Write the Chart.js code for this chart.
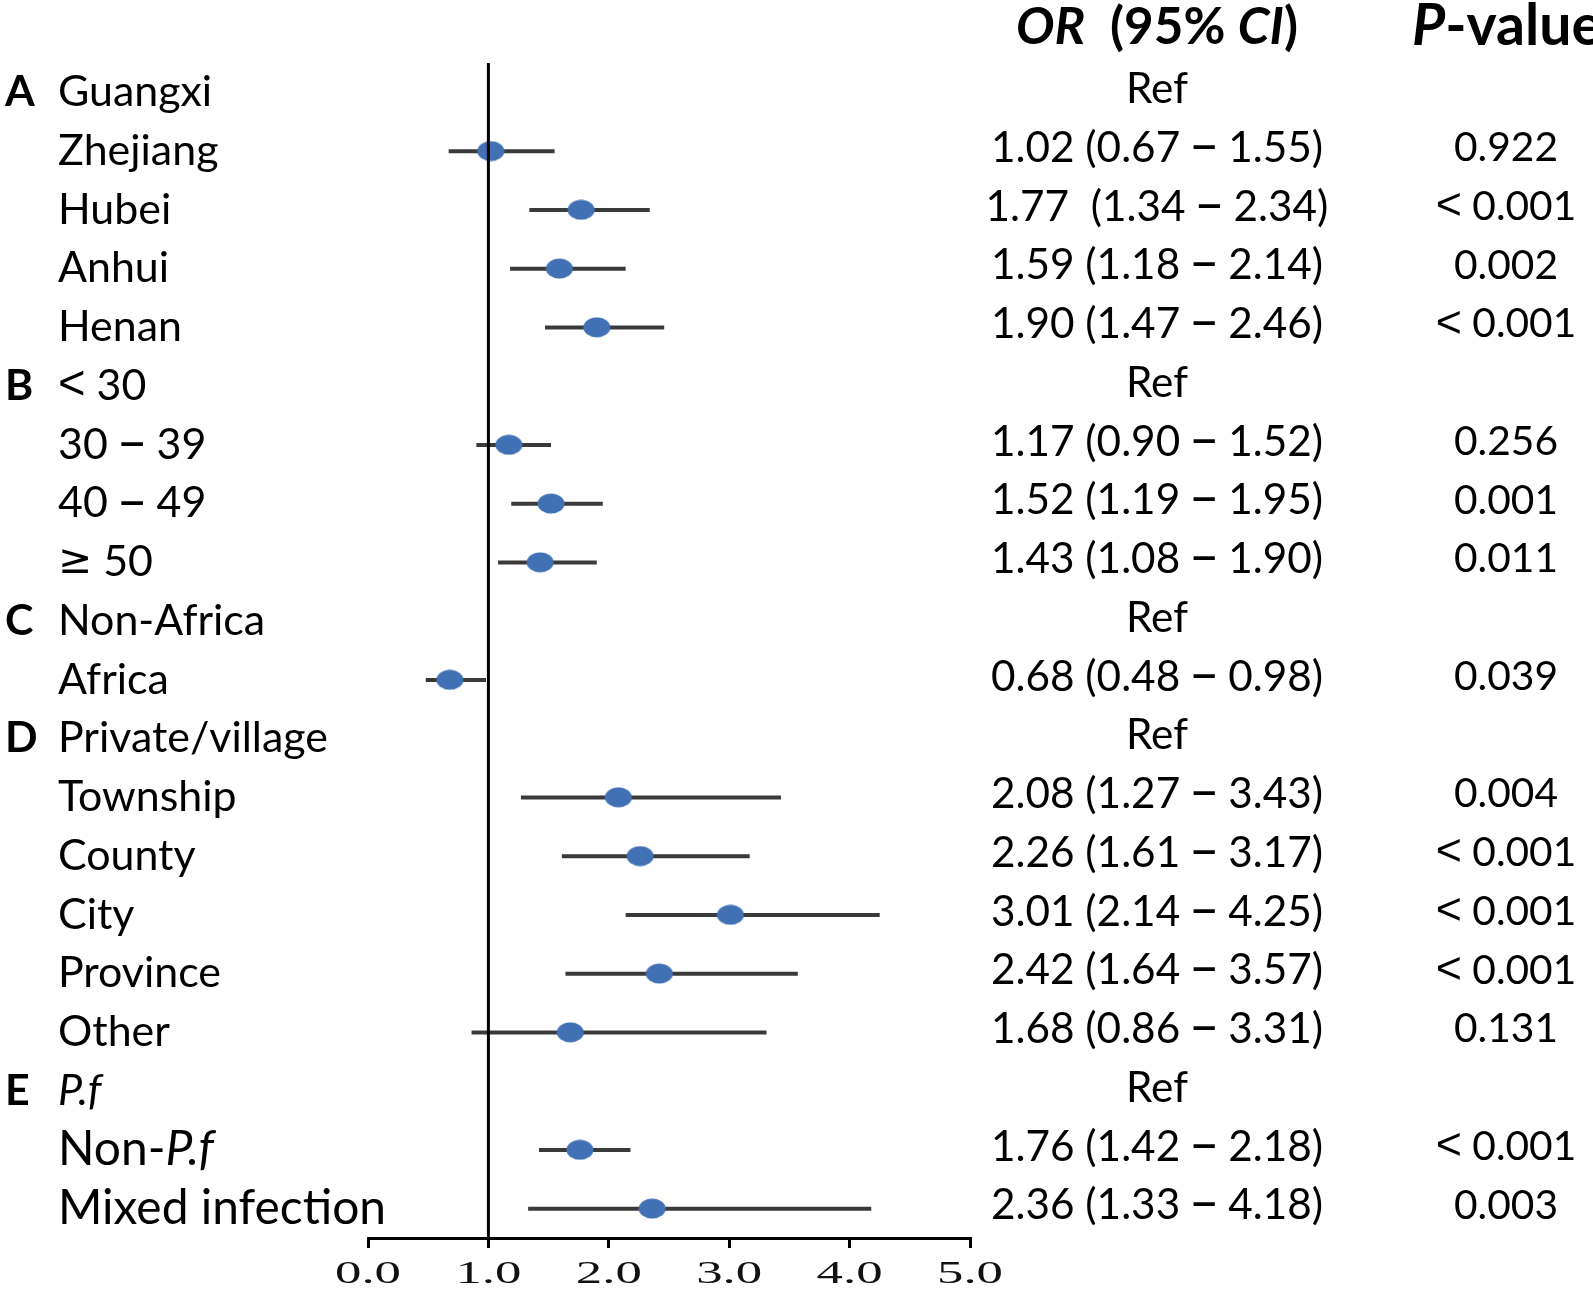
<!DOCTYPE html>
<html><head><meta charset="utf-8">
<script src="https://cdn.jsdelivr.net/npm/chart.js@4.4.1/dist/chart.umd.min.js"></script>
<style>html,body{margin:0;padding:0;background:#fff;} canvas{display:block}</style>
</head><body>
<canvas id="c" width="1593" height="1292"></canvas>
<script>
// ---------- DATA ----------
const rowLabels = ['Guangxi','Zhejiang','Hubei','Anhui','Henan',
  '< 30','30 – 39','40 – 49','≥ 50',
  'Non-Africa','Africa',
  'Private/village','Township','County','City','Province','Other',
  '_P.f_','Non-_P.f_','Mixed infection'];
const groupLetters = ['A','','','','','B','','','','C','','D','','','','','','E','',''];
const oddsRatio = [null,1.02,1.77,1.59,1.90, null,1.17,1.52,1.43, null,0.68, null,2.08,2.26,3.01,2.42,1.68, null,1.76,2.36];
const ciLower   = [null,0.67,1.34,1.18,1.47, null,0.90,1.19,1.08, null,0.48, null,1.27,1.61,2.14,1.64,0.86, null,1.42,1.33];
const ciUpper   = [null,1.55,2.34,2.14,2.46, null,1.52,1.95,1.90, null,0.98, null,3.43,3.17,4.25,3.57,3.31, null,2.18,4.18];
const ciText = ['Ref','1.02 (0.67 – 1.55)','1.77  (1.34 – 2.34)','1.59 (1.18 – 2.14)','1.90 (1.47 – 2.46)',
  'Ref','1.17 (0.90 – 1.52)','1.52 (1.19 – 1.95)','1.43 (1.08 – 1.90)',
  'Ref','0.68 (0.48 – 0.98)',
  'Ref','2.08 (1.27 – 3.43)','2.26 (1.61 – 3.17)','3.01 (2.14 – 4.25)','2.42 (1.64 – 3.57)','1.68 (0.86 – 3.31)',
  'Ref','1.76 (1.42 – 2.18)','2.36 (1.33 – 4.18)'];
const pValues = ['','0.922','< 0.001','0.002','< 0.001',
  '','0.256','0.001','0.011',
  '','0.039',
  '','0.004','< 0.001','< 0.001','< 0.001','0.131',
  '','< 0.001','0.003'];
const xTickLabels = ['0.0','1.0','2.0','3.0','4.0','5.0'];
const headerCI = '_OR_  (95% _CI_)';
const headerP = '_P_-value';
const refValue = 1;

// ---------- STYLE ----------
const LABEL_FONT = 'Lato';
const symbolFonts = {
  '–': {family:'"DejaVu Sans"', scale:1.25},
  '<': {family:'"Liberation Sans"', scale:1.1},
  '≥': {family:'"DejaVu Sans"', scale:0.95}
};
const largeLabelRows = new Set([18,19]);
const markerColor = '#4171b4';
const ciColor = '#3a3a3a';

const mctx = document.createElement('canvas').getContext('2d');

function segs(s){
  const out = [];
  s.split('_').forEach((t,i)=>{
    const it = i%2===1;
    let buf = '';
    for (const ch of t){
      if (symbolFonts[ch]){
        if (buf) out.push({t:buf, it, sym:null});
        buf = '';
        out.push({t:ch, it, sym:symbolFonts[ch]});
      } else buf += ch;
    }
    if (buf) out.push({t:buf, it, sym:null});
  });
  return out;
}
function fontOf(p, size, weight){
  if (p.sym) return `normal ${weight} ${(size*p.sym.scale).toFixed(2)}px ${p.sym.family}`;
  return `${p.it?'italic':'normal'} ${weight} ${size.toFixed(2)}px ${LABEL_FONT}`;
}
function measureRich(ctx, s, size, weight){
  const parts = segs(s); let total = 0;
  parts.forEach(p=>{ ctx.font = fontOf(p,size,weight); p.w = ctx.measureText(p.t).width; total += p.w; });
  return {parts, total};
}
function fit(text, weight, target){
  return 100*target/measureRich(mctx, text, 100, weight).total;
}
function drawRich(ctx, s, x, y, align, size, weight){
  const {parts, total} = measureRich(ctx, s, size, weight);
  let cx = align==='center' ? x - total/2 : x;
  ctx.textAlign = 'left'; ctx.textBaseline = 'middle';
  parts.forEach(p=>{ ctx.font = fontOf(p,size,weight); ctx.fillText(p.t, cx, y); cx += p.w; });
}

const labelSize = fit('Private/village','normal',270);
const largeLabelSize = fit('Mixed infection','normal',328);
const ciSize = fit('1.02 (0.67 – 1.55)','normal',332);
const pSize = fit('0.922','normal',104);
const headSize = fit(headerCI,'bold',282);
const headPSize = fit(headerP,'bold',190);

// ellipse marker
const marker = document.createElement('canvas');
marker.width = 28; marker.height = 21;
(function(){ const g = marker.getContext('2d'); g.fillStyle = markerColor; g.beginPath(); g.ellipse(14,10.5,13.5,10,0,0,Math.PI*2); g.fill(); })();

const pointData = [];
const ciData = [];
oddsRatio.forEach((v,i)=>{
  if (v===null) return;
  pointData.push({x:v, y:i});
  ciData.push({x:ciLower[i], y:i},{x:ciUpper[i], y:i},{x:null, y:null});
});

const textPlugin = {
  id:'forestText',
  afterDraw(chart){
    const ctx = chart.ctx, ys = chart.scales.y, xs = chart.scales.x;
    ctx.save();
    ctx.fillStyle = '#000';
    rowLabels.forEach((lab,i)=>{
      const y = ys.getPixelForValue(i);
      if (groupLetters[i]) drawRich(ctx, groupLetters[i], 5, y, 'left', labelSize, 'bold');
      drawRich(ctx, lab, 58, y, 'left', largeLabelRows.has(i)?largeLabelSize:labelSize, 'normal');
      drawRich(ctx, ciText[i], 1157, y - 3, 'center', ciSize, 'normal');
      if (pValues[i]) drawRich(ctx, pValues[i], 1506, y - 3, 'center', pSize, 'normal');
    });
    drawRich(ctx, headerCI, 1157, 27, 'center', headSize, 'bold');
    drawRich(ctx, headerP, 1412, 27, 'left', headPSize, 'bold');
    // x tick labels (stretched serif)
    ctx.font = '32px "Liberation Serif"';
    const stretch = 66 / ctx.measureText('0.0').width;
    ctx.fillStyle = '#111';
    ctx.textAlign = 'center'; ctx.textBaseline = 'middle';
    xTickLabels.forEach((t,i)=>{
      const px = xs.getPixelForValue(i);
      ctx.save(); ctx.translate(px, 1275); ctx.scale(stretch,1); ctx.fillText(t,0,0); ctx.restore();
    });
    ctx.restore();
  }
};

new Chart(document.getElementById('c'), {
  type:'scatter',
  data:{ datasets:[
    {type:'line', data:[{x:refValue,y:-0.5},{x:refValue,y:19.5}], borderColor:'#000', borderWidth:3, pointRadius:0, order:0},
    {type:'scatter', data:pointData, pointStyle:marker, pointRadius:10, order:1},
    {type:'line', data:ciData, borderColor:ciColor, borderWidth:4, pointRadius:0, spanGaps:false, order:2}
  ]},
  options:{
    responsive:false, animation:false,
    layout:{padding:{left:368, right:623, top:63, bottom:0}},
    plugins:{legend:{display:false}, tooltip:{enabled:false}},
    scales:{
      x:{type:'linear', min:0, max:5, position:'bottom',
        ticks:{display:false, stepSize:1},
        grid:{drawOnChartArea:false, drawTicks:true, tickLength:10, color:'#000', lineWidth:3},
        border:{display:true, color:'#000', width:3},
        afterFit(s){ s.height = 54; }
      },
      y:{type:'linear', min:-0.5, max:19.5, reverse:true, display:false}
    }
  },
  plugins:[textPlugin]
});
</script>
</body></html>
